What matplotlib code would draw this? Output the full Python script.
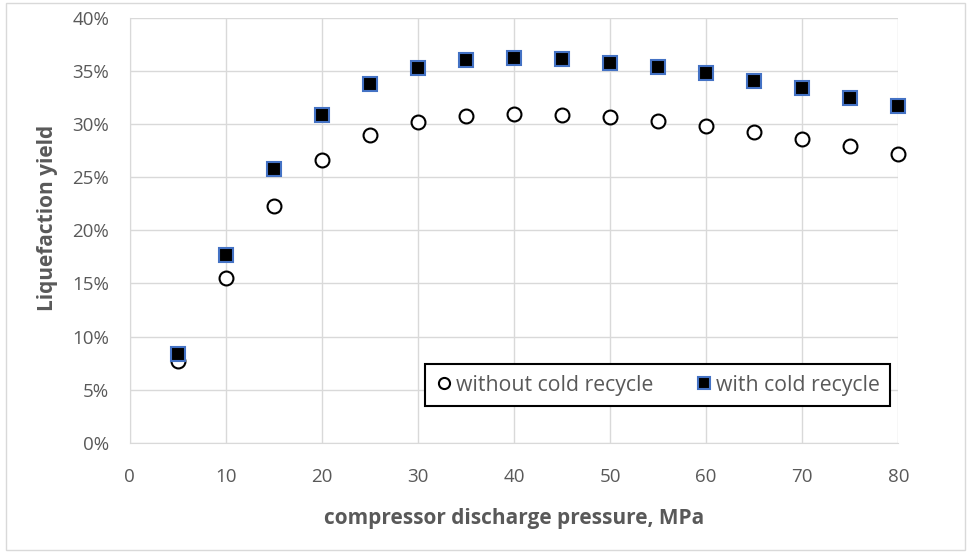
import matplotlib
matplotlib.use("Agg")
import matplotlib.pyplot as plt
from matplotlib.ticker import FuncFormatter
from matplotlib.patches import Rectangle

# compressor discharge pressure, MPa
pressure = [5, 10, 15, 20, 25, 30, 35, 40, 45, 50, 55, 60, 65, 70, 75, 80]
# liquefaction yield, %
yield_without = [7.7, 15.5, 22.3, 26.6, 29.0, 30.2, 30.8, 31.0, 30.9, 30.7, 30.3, 29.8, 29.3, 28.6, 27.9, 27.2]
yield_with = [8.4, 17.7, 25.8, 30.9, 33.8, 35.3, 36.0, 36.2, 36.1, 35.8, 35.4, 34.8, 34.1, 33.4, 32.5, 31.7]

plt.rcParams['font.family'] = ['Open Sans', 'DejaVu Sans']
grey = '#595959'
grid = '#d9d9d9'

fig = plt.figure(figsize=(9.69, 5.52), dpi=100)
ax = fig.add_axes([0.134, 0.198, 0.793, 0.7694])

ax.plot(pressure, yield_without, 'o', ms=10, mfc='white', mec='black', mew=1.5,
        label='without cold recycle', zorder=3, clip_on=False)
ax.plot(pressure, yield_with, 's', ms=10, mfc='black', mec='#4472C4', mew=1.5,
        label='with cold recycle', zorder=3, clip_on=False)

ax.set_xlim(0, 80)
ax.set_ylim(0, 40)
ax.set_xticks(range(0, 81, 10))
ax.set_yticks(range(0, 41, 5))
ax.yaxis.set_major_formatter(FuncFormatter(lambda v, p: f'{v:.0f}%'))
ax.grid(True, color=grid, lw=1)
ax.set_axisbelow(True)
for s in ['top', 'right']:
    ax.spines[s].set_visible(False)
ax.spines['bottom'].set_color(grid)
ax.spines['left'].set_color(grid)
ax.tick_params(length=0, colors=grey, labelsize=13.5)
ax.tick_params(axis='y', pad=15)
ax.tick_params(axis='x', pad=18)

ax.set_xlabel('compressor discharge pressure, MPa', fontsize=15, fontweight='bold',
              color=grey, labelpad=16)
ax.set_ylabel('Liquefaction yield', fontsize=15, fontweight='bold', color=grey,
              labelpad=10, y=0.53)

leg = ax.legend(loc='lower right', bbox_to_anchor=(0.9896, 0.086), ncol=2, fontsize=15.3,
                frameon=True, fancybox=False, edgecolor='black', handletextpad=0.15,
                handlelength=0.8, columnspacing=2.0, borderpad=0.5, borderaxespad=0,
                markerscale=0.8, framealpha=1)
leg.get_frame().set_linewidth(1.5)
for t in leg.get_texts():
    t.set_color(grey)

fig.patches.append(Rectangle((0.006, 0.004), 0.99, 0.99, transform=fig.transFigure,
                             fill=False, ec=grid, lw=1))

fig.savefig('out.png', dpi=100)
